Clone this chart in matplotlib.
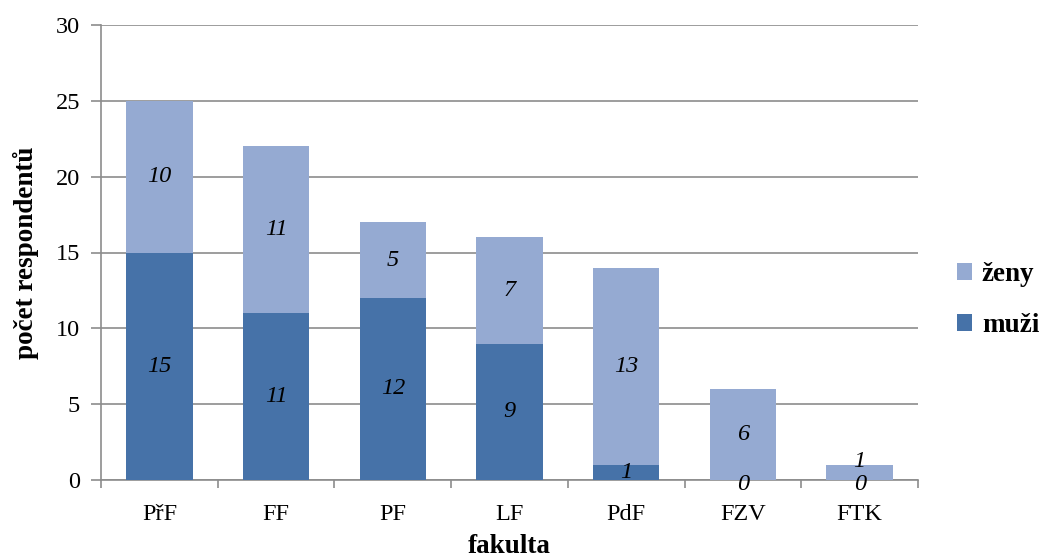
import matplotlib
matplotlib.use("Agg")
import matplotlib.pyplot as plt
import numpy as np

categories = ["PřF", "FF", "PF", "LF", "PdF", "FZV", "FTK"]
muzi = [15, 11, 12, 9, 1, 0, 0]
zeny = [10, 11, 5, 7, 13, 6, 1]

plt.rcParams['font.family'] = ['Liberation Serif', 'DejaVu Serif']

fig = plt.figure(figsize=(10.43, 5.59), dpi=100)
ax = fig.add_axes([101/1043, 1 - 480/559, 817/1043, 455/559])

c_m = "#4672A8"
c_z = "#95AAD2"
gray = "#8c8c8c"
x = np.arange(len(categories))
w = 0.57
b1 = ax.bar(x, muzi, w, color=c_m, zorder=3)
b2 = ax.bar(x, zeny, w, bottom=muzi, color=c_z, zorder=3)

lab_fs = 17.5
for i in range(len(categories)):
    m, z = muzi[i], zeny[i]
    dy_m = -3 if m == 0 else 0
    dy_z = 8 if (m == 0 and z < 2) else 0
    ax.annotate(str(m), (x[i], m / 2), xytext=(0, dy_m), textcoords="offset points",
                ha="center", va="center", fontsize=lab_fs, style="italic", zorder=4)
    ax.annotate(str(z), (x[i], m + z / 2), xytext=(0, dy_z), textcoords="offset points",
                ha="center", va="center", fontsize=lab_fs, style="italic", zorder=4)

ax.set_xlim(-0.5, len(categories) - 0.5)
ax.set_ylim(0, 30)
ax.set_yticks(range(0, 31, 5))
ax.yaxis.grid(True, color=gray, linewidth=1.2, zorder=0)
ax.set_axisbelow(True)

ax.set_xticks(x)
ax.set_xticklabels(categories, fontsize=17.5)
ax.tick_params(axis="x", length=0, pad=17)
ax.set_xticks(np.arange(-0.5, len(categories)), minor=True)
ax.tick_params(axis="x", which="minor", length=6, width=1.2, color=gray, direction="out")
ax.tick_params(axis="y", length=7, width=1.2, color=gray, labelsize=17.5, direction="out", pad=8)

for s in ["top", "right"]:
    ax.spines[s].set_visible(False)
for s in ["left", "bottom"]:
    ax.spines[s].set_color(gray)
    ax.spines[s].set_linewidth(1.2)

ax.set_ylabel("počet respondentů", fontsize=19.5, fontweight="bold", labelpad=12)
ax.set_xlabel("fakulta", fontsize=19.5, fontweight="bold", labelpad=7)

leg = fig.legend([b2, b1], ["ženy", "muži"], loc="center left",
                 bbox_to_anchor=(957/1043, 1 - 300/559),
                 frameon=False, prop={"size": 19.5, "weight": "bold"}, borderpad=0,
                 borderaxespad=0,
                 handlelength=0.57, handleheight=0.57, handletextpad=0.35, labelspacing=0.95)

fig.savefig("out.png", dpi=100)
